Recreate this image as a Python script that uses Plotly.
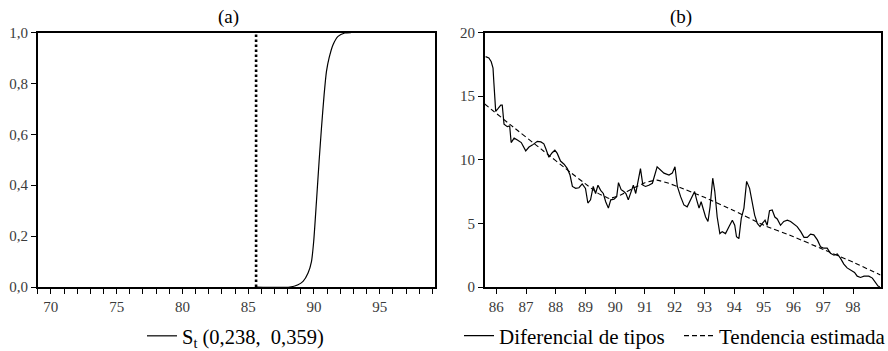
import plotly.graph_objects as go

# ---------------- data ----------------
# Panel (a): transition function S_t
s_years = [85.6, 88.16, 88.79, 89.17, 89.55, 89.81, 89.98, 90.19, 90.39, 90.57,
           90.77, 90.95, 91.15, 91.45, 91.83, 92.34, 92.85, 98.92]
s_values = [0.0, 0.0, 0.009, 0.022, 0.055, 0.10, 0.18, 0.337, 0.494, 0.625,
            0.755, 0.847, 0.90, 0.952, 0.985, 0.998, 1.0, 1.0]
break_year = 85.6
break_values = [0.0, 1.0]
s_label = "S<sub>t</sub> (0,238,  0,359)"

a_xticks = [70, 75, 80, 85, 90, 95]
a_xticktext = ["70", "75", "80", "85", "90", "95"]
a_yticks = [0.0, 0.2, 0.4, 0.6, 0.8, 1.0]
a_yticktext = ["0,0", "0,2", "0,4", "0,6", "0,8", "1,0"]

# Panel (b): interest rate differential and estimated trend
dif_years = [85.64, 85.75, 85.83, 85.89, 85.92, 85.98, 86.05, 86.15, 86.20, 86.26,
             86.37, 86.45, 86.50, 86.60, 86.71, 86.84, 86.99, 87.10, 87.21, 87.38,
             87.50, 87.60, 87.66, 87.77, 87.88, 87.97, 88.05, 88.16, 88.28, 88.39,
             88.48, 88.56, 88.67, 88.78, 88.89, 89.00, 89.08, 89.17, 89.26, 89.34,
             89.42, 89.51, 89.60, 89.68, 89.77, 89.85, 89.96, 90.05, 90.11, 90.20,
             90.29, 90.36, 90.44, 90.52, 90.61, 90.69, 90.76, 90.85, 90.93, 91.02,
             91.13, 91.25, 91.41, 91.53, 91.64, 91.81, 91.92, 92.01, 92.09, 92.20,
             92.31, 92.42, 92.54, 92.67, 92.74, 92.82, 92.89, 92.96, 93.04, 93.12,
             93.19, 93.28, 93.35, 93.43, 93.52, 93.60, 93.71, 93.83, 93.94, 94.02,
             94.08, 94.16, 94.24, 94.33, 94.42, 94.52, 94.61, 94.69, 94.78, 94.87,
             94.95, 95.04, 95.11, 95.19, 95.28, 95.37, 95.45, 95.56, 95.67, 95.79,
             95.90, 96.01, 96.12, 96.24, 96.35, 96.46, 96.57, 96.68, 96.80, 96.91,
             97.02, 97.13, 97.24, 97.36, 97.47, 97.58, 97.69, 97.80, 97.92, 98.05,
             98.14, 98.25, 98.37, 98.53, 98.65, 98.76, 98.84, 98.90]
dif_values = [18.1, 18.0, 17.7, 17.2, 16.0, 13.8, 14.0, 14.3, 14.3, 12.8,
              12.6, 12.65, 11.35, 11.7, 11.55, 11.35, 10.7, 11.0, 11.15, 11.45,
              11.4, 11.25, 10.9, 10.2, 10.55, 10.75, 10.5, 9.9, 9.65, 9.3,
              8.8, 7.9, 7.75, 7.8, 8.1, 7.75, 6.6, 6.85, 7.9, 7.35,
              8.0, 7.6, 7.35, 6.7, 6.2, 6.85, 6.9, 7.1, 8.2, 7.65,
              7.5, 7.35, 6.85, 7.35, 8.0, 7.35, 8.3, 9.3, 8.0, 7.9,
              8.0, 8.15, 9.45, 9.2, 8.95, 8.8, 8.95, 9.45, 7.9, 7.1,
              6.45, 6.3, 6.85, 7.5, 6.85, 6.2, 6.7, 6.05, 5.5, 5.15,
              6.3, 8.55, 7.5, 5.5, 4.2, 4.35, 4.2, 4.75, 5.25, 4.85,
              3.95, 3.8, 5.4, 6.2, 8.3, 7.75, 6.55, 5.65, 5.0, 4.75,
              5.0, 5.25, 4.85, 6.0, 6.05, 5.5, 5.35, 4.85, 5.15, 5.25,
              5.15, 4.95, 4.75, 4.35, 3.9, 3.9, 4.15, 4.1, 3.7, 3.15,
              3.05, 3.05, 2.65, 2.5, 2.6, 2.25, 1.8, 1.5, 1.35, 1.15,
              0.85, 0.75, 0.85, 0.85, 0.7, 0.3, 0.08, 0.02]

trend_years = [85.6, 86.5, 87.5, 88.5, 89.0, 89.4, 89.8, 90.2, 90.6, 91.0,
               91.4, 91.8, 92.2, 93.0, 94.0, 95.0, 96.0, 97.0, 98.0, 98.92]
trend_values = [14.4, 12.7, 10.85, 9.0, 8.1, 7.4, 6.95, 7.25, 7.75, 8.2,
                8.4, 8.15, 7.8, 7.05, 6.0, 4.85, 3.95, 2.95, 1.95, 0.95]

b_xticks = list(range(86, 99))
b_xticktext = [str(v) for v in b_xticks]
b_yticks = [0, 5, 10, 15, 20]
b_yticktext = ["0", "5", "10", "15", "20"]

# ---------------- figure ----------------
FONT = "Liberation Serif"
W, H = 888, 351

fig = go.Figure()

fig.add_trace(go.Scatter(x=[break_year, break_year], y=break_values, mode="lines",
                         line=dict(color="black", width=2.6, dash="2.6px,2.4px"),
                         showlegend=False, xaxis="x", yaxis="y"))
fig.add_trace(go.Scatter(x=s_years, y=s_values, mode="lines", name=s_label,
                         line=dict(color="black", width=1.2, shape="spline", smoothing=0.6),
                         legend="legend", xaxis="x", yaxis="y"))

fig.add_trace(go.Scatter(x=dif_years, y=dif_values, mode="lines", name="Diferencial de tipos",
                         line=dict(color="black", width=1.2),
                         legend="legend2", xaxis="x2", yaxis="y2"))
fig.add_trace(go.Scatter(x=trend_years, y=trend_values, mode="lines", name="Tendencia estimada",
                         line=dict(color="black", width=1.1, dash="5px,3px", shape="spline", smoothing=0.3),
                         legend="legend2", xaxis="x2", yaxis="y2"))

ydom = [1 - 287 / H, 1 - 32.5 / H]
tickfont = dict(family=FONT, size=15, color="#3a3a3a")
axis_common = dict(showgrid=False, zeroline=False, showline=True, linecolor="black",
                   linewidth=1.6, mirror=True, ticks="outside", tickcolor="black",
                   tickwidth=1, ticklen=5, tickfont=tickfont, automargin=False)

fig.update_layout(
    width=W, height=H,
    margin=dict(l=0, r=0, t=0, b=0, pad=0, autoexpand=False),
    paper_bgcolor="white", plot_bgcolor="white",
    font=dict(family=FONT, color="black"),
    xaxis=dict(domain=[37.7 / W, 435 / W], range=[69, 99.2], anchor="y",
               tickmode="array", tickvals=a_xticks, ticktext=a_xticktext,
               minor=dict(dtick=1, tick0=69, ticks="outside", ticklen=5, tickcolor="black", tickwidth=1),
               **axis_common),
    yaxis=dict(domain=ydom, range=[0, 1], anchor="x",
               tickmode="array", tickvals=a_yticks, ticktext=a_yticktext,
               **axis_common),
    xaxis2=dict(domain=[484.7 / W, 880.7 / W], range=[85.61, 98.93], anchor="y2",
                tickmode="array", tickvals=b_xticks, ticktext=b_xticktext,
                **axis_common),
    yaxis2=dict(domain=ydom, range=[0, 20], anchor="x2",
                tickmode="array", tickvals=b_yticks, ticktext=b_yticktext,
                **axis_common),
    legend=dict(orientation="h", x=142 / W, xanchor="left", y=1 - 336 / H, yanchor="middle",
                font=dict(family=FONT, size=20.5, color="black"), bgcolor="rgba(0,0,0,0)",
                borderwidth=0),
    legend2=dict(orientation="h", x=459 / W, xanchor="left", y=1 - 336 / H, yanchor="middle",
                 font=dict(family=FONT, size=21, color="black"), bgcolor="rgba(0,0,0,0)",
                 borderwidth=0, entrywidth=175, entrywidthmode="pixels"),
    annotations=[
        dict(text="(a)", x=229 / W, y=1 - 17 / H, xref="paper", yref="paper",
             xanchor="center", yanchor="middle",
             showarrow=False, font=dict(family=FONT, size=19, color="black")),
        dict(text="(b)", x=681 / W, y=1 - 17 / H, xref="paper", yref="paper",
             xanchor="center", yanchor="middle",
             showarrow=False, font=dict(family=FONT, size=19, color="black")),
    ],
)

fig.write_html("out.html", config={"displayModeBar": False},
               post_script="document.body.style.margin='0px';")
